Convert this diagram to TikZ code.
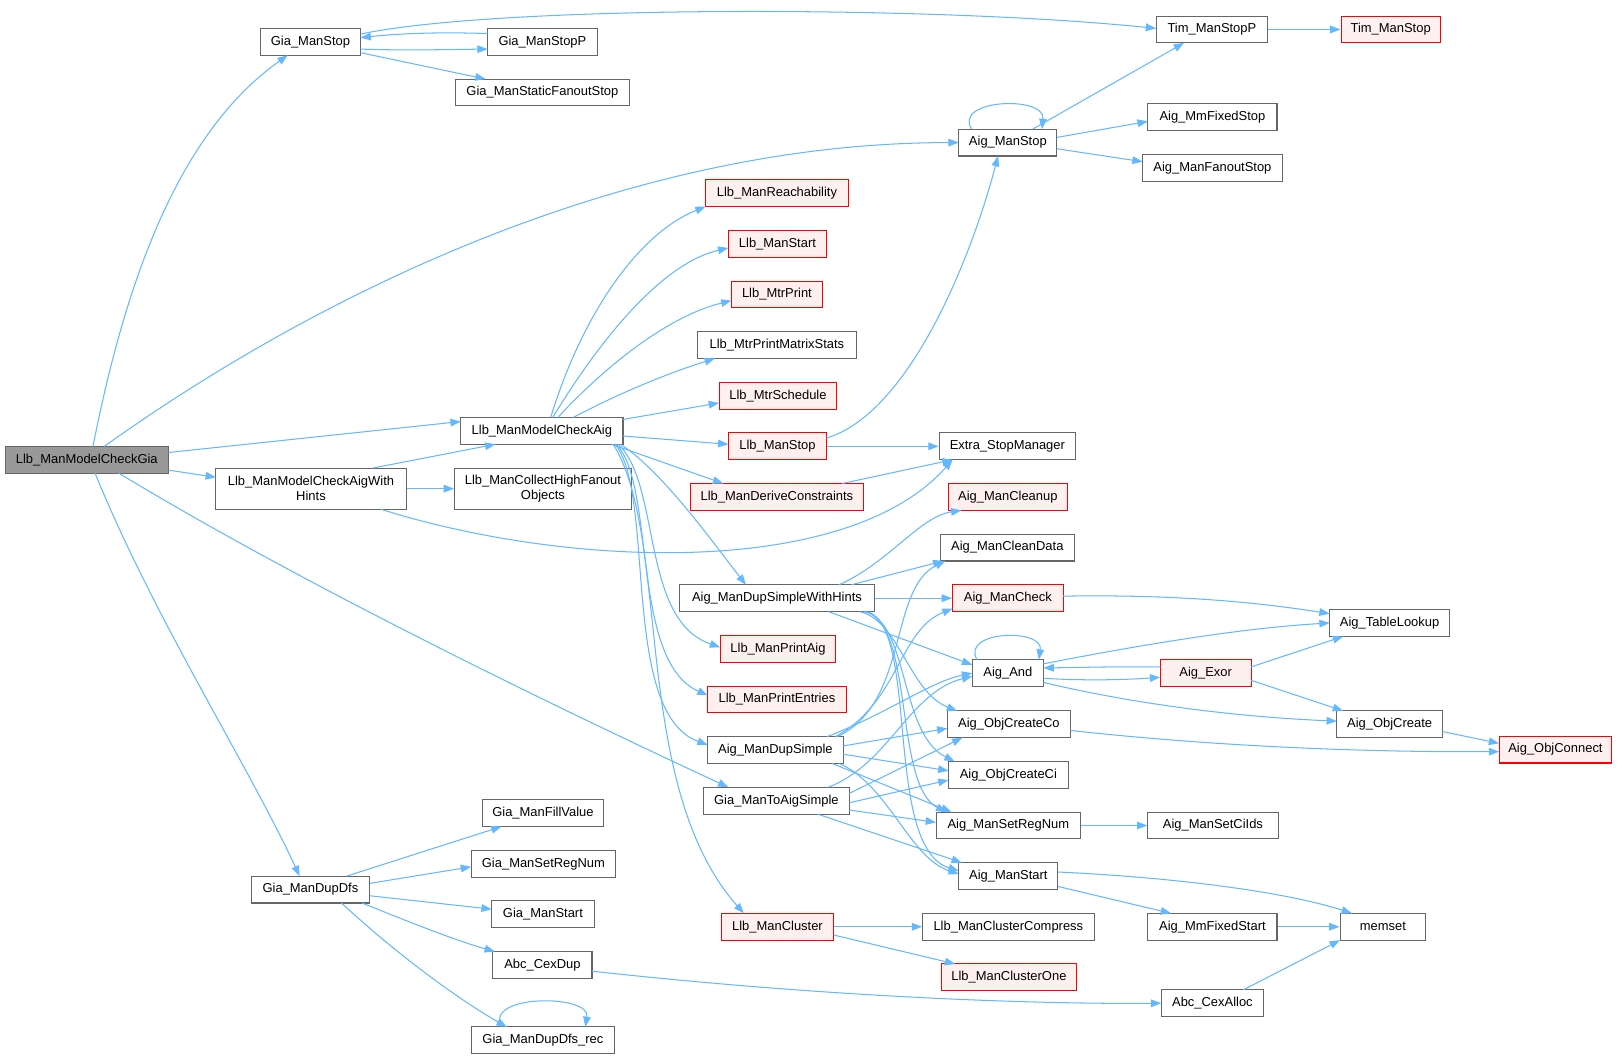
\documentclass[tikz,border=0pt]{standalone}
\usepackage{fontspec}
\setmainfont{Liberation Sans}
\usetikzlibrary{arrows.meta,calc}
\definecolor{edgec}{HTML}{63B8FF}
\definecolor{bordc}{HTML}{666666}
\definecolor{redfill}{HTML}{FFF0F0}
\definecolor{redbord}{HTML}{FF0000}
\definecolor{rootfill}{HTML}{999999}
\newcommand{\fsz}{\fontsize{9.4}{11}\selectfont}
\begin{document}
\begin{tikzpicture}[x=0.75pt,y=-0.75pt,
 nbox/.style={draw=bordc, fill=white, line width=0.75pt, minimum height=19.5pt, inner sep=1pt, font=\fsz, text=black},
 redbox/.style={nbox, draw=redbord, fill=redfill},
 rootbox/.style={nbox, fill=rootfill},
 bw/.style={minimum width={#1*0.75pt}},
 tall/.style={minimum height=30pt, align=center},
 conn/.style={draw=edgec, line width=0.75pt, -{Triangle[length=7.5pt,width=5.5pt]}}
]
\useasboundingbox[fill=white] (0,0) rectangle (1568,1025);

\node[rootbox,bw=158] (G0) at (84,445) {Llb\_ManModelCheckGia};
\node[nbox,bw=97] (GStop) at (300.5,40.5) {Gia\_ManStop};
\node[nbox,bw=106] (GStopP) at (525,40.5) {Gia\_ManStopP};
\node[nbox,bw=168] (GSFS) at (525,89.5) {Gia\_ManStaticFanoutStop};
\node[nbox,bw=108] (TimP) at (1173,28.5) {Tim\_ManStopP};
\node[redbox,bw=96] (Tim) at (1346,28.5) {Tim\_ManStop};
\node[nbox,bw=95] (AStop) at (975.5,138) {Aig\_ManStop};
\node[nbox,bw=125] (MmFS) at (1173.5,113.5) {Aig\_MmFixedStop};
\node[nbox,bw=135] (MFO) at (1173.5,162.5) {Aig\_ManFanoutStop};
\node[redbox,bw=138] (Reach) at (752,187) {Llb\_ManReachability};
\node[redbox,bw=95] (LStart) at (752.5,236) {Llb\_ManStart};
\node[redbox,bw=88] (MtrP) at (752,285) {Llb\_MtrPrint};
\node[nbox,bw=154] (MtrPMS) at (752,334) {Llb\_MtrPrintMatrixStats};
\node[redbox,bw=114] (MtrS) at (753,383) {Llb\_MtrSchedule};
\node[redbox,bw=95] (LStop) at (752.5,432) {Llb\_ManStop};
\node[nbox,bw=157] (MCA) at (524.5,417) {Llb\_ManModelCheckAig};
\node[nbox,tall,bw=184] (MCAH) at (301,473) {Llb\_ManModelCheckAigWith\\Hints};
\node[nbox,tall,bw=171] (CHFO) at (525.5,473) {Llb\_ManCollectHighFanout\\Objects};
\node[nbox,bw=132] (ESM) at (975,432) {Extra\_StopManager};
\node[redbox,bw=168] (LDC) at (752,481) {Llb\_ManDeriveConstraints};
\node[redbox,bw=115] (ACU) at (975.5,481) {Aig\_ManCleanup};
\node[nbox,bw=130] (ACD) at (975,530) {Aig\_ManCleanData};
\node[nbox,bw=188] (DSWH) at (752,579) {Aig\_ManDupSimpleWithHints};
\node[redbox,bw=107] (ACh) at (975.5,579) {Aig\_ManCheck};
\node[nbox,bw=116] (ATL) at (1345,603) {Aig\_TableLookup};
\node[redbox,bw=112] (LPA) at (753,628.5) {Llb\_ManPrintAig};
\node[nbox,bw=69] (AAnd) at (975.5,651.5) {Aig\_And};
\node[redbox,bw=88] (AEx) at (1167,651.5) {Aig\_Exor};
\node[redbox,bw=134] (LPE) at (752,677) {Llb\_ManPrintEntries};
\node[nbox,bw=119] (AOCCo) at (976.5,701) {Aig\_ObjCreateCo};
\node[nbox,bw=102] (AOC) at (1345,701) {Aig\_ObjCreate};
\node[redbox,bw=109] (AOCon) at (1505.5,725.5) {Aig\_ObjConnect};
\node[nbox,bw=131] (DS) at (750.5,726) {Aig\_ManDupSimple};
\node[nbox,bw=116] (AOCCi) at (976,750) {Aig\_ObjCreateCi};
\node[nbox,bw=141] (TAS) at (751.5,775) {Gia\_ManToAigSimple};
\node[nbox,bw=140] (ASRN) at (976,799) {Aig\_ManSetRegNum};
\node[nbox,bw=126] (ASCI) at (1174,799) {Aig\_ManSetCiIds};
\node[nbox,bw=117] (GFV) at (525.5,787) {Gia\_ManFillValue};
\node[nbox,bw=140] (GSRN) at (526,836) {Gia\_ManSetRegNum};
\node[nbox,bw=115] (GDD) at (300.5,861) {Gia\_ManDupDfs};
\node[nbox,bw=99] (GMS) at (525.5,885) {Gia\_ManStart};
\node[nbox,bw=96] (AMS) at (976,848) {Aig\_ManStart};
\node[redbox,bw=109] (LCl) at (752.5,897) {Llb\_ManCluster};
\node[nbox,bw=166] (LCC) at (976,897) {Llb\_ManClusterCompress};
\node[nbox,bw=125] (AMFS) at (1173.5,897) {Aig\_MmFixedStart};
\node[nbox,bw=83] (MEM) at (1338.5,897) {memset};
\node[nbox,bw=96] (CXD) at (525,934) {Abc\_CexDup};
\node[redbox,bw=131] (LCO) at (976.5,946) {Llb\_ManClusterOne};
\node[nbox,bw=99] (CXA) at (1173.5,971) {Abc\_CexAlloc};
\node[nbox,bw=139] (GDDR) at (525.5,1007) {Gia\_ManDupDfs\_rec};

% root
\draw[conn] ($(G0)+(6,-13)$) .. controls (120,280) and (170,130) .. ($(GStop)+(-22,13)$);
\draw[conn] ($(G0)+(17,-13)$) .. controls (300,290) and (600,138) .. ($(AStop)+(-47.5,0)$);
\draw[conn] ($(G0)+(79,-7)$) -- ($(MCA)+(-78.5,-9)$);
\draw[conn] ($(G0)+(79,10)$) -- ($(MCAH)+(-92,-11)$);
\draw[conn] ($(G0)+(31,13)$) .. controls (300,570) and (550,690) .. ($(TAS)+(-46.5,-13)$);
\draw[conn] ($(G0)+(8,13)$) .. controls (150,600) and (240,740) .. ($(GDD)+(-10.5,-13)$);
% Gia_ManStop
\draw[conn] ($(GStop)+(48.5,-7.5)$) .. controls (480,5) and (900,5) .. ($(TimP)+(-54,-1)$);
\draw[conn] ($(GStop)+(48.5,7)$) .. controls (390,49) and (430,48) .. ($(GStopP)+(-53,7)$);
\draw[conn] ($(GStopP)+(-53,-8)$) .. controls (430,31) and (390,32) .. ($(GStop)+(48.5,-4)$);
\draw[conn] ($(GStop)+(48.5,10.5)$) -- ($(GSFS)+(-55,-13)$);
\draw[conn] (TimP) -- (Tim);
% Aig_ManStop
\draw[conn] ($(AStop)+(-35,-13)$) .. controls (922,96) and (1012,92) .. ($(AStop)+(33,-13)$);
\draw[conn] ($(AStop)+(24,-13)$) -- ($(TimP)+(-27,13)$);
\draw[conn] ($(AStop)+(47.5,-5)$) -- ($(MmFS)+(-62.5,4)$);
\draw[conn] ($(AStop)+(47.5,6)$) -- ($(MFO)+(-67.5,-6)$);
% Llb_ManModelCheckAig
\draw[conn] ($(MCA)+(8.5,-13)$) .. controls (565,300) and (620,225) .. ($(Reach)+(-69,13)$);
\draw[conn] ($(MCA)+(10.5,-13)$) .. controls (580,330) and (640,255) .. ($(LStart)+(-47.5,4)$);
\draw[conn] ($(MCA)+(15.5,-13)$) .. controls (590,350) and (650,305) .. ($(MtrP)+(-44,6)$);
\draw[conn] ($(MCA)+(30.5,-13)$) .. controls (600,380) and (650,360) .. ($(MtrPMS)+(-60,13)$);
\draw[conn] ($(MCA)+(78.5,-11)$) -- ($(MtrS)+(-57,7)$);
\draw[conn] ($(MCA)+(78.5,5)$) -- ($(LStop)+(-47.5,-2)$);
\draw[conn] ($(MCA)+(67.5,13)$) -- ($(LDC)+(-52,-13)$);
\draw[conn] ($(MCA)+(76,13)$) .. controls (640,455) and (690,525) .. ($(DSWH)+(-30,-13)$);
\draw[conn] ($(MCA)+(74,13)$) .. controls (640,470) and (620,600) .. ($(LPA)+(-56,-2)$);
\draw[conn] ($(MCA)+(72,13)$) .. controls (635,470) and (610,640) .. ($(LPE)+(-67,-4)$);
\draw[conn] ($(MCA)+(71,13)$) .. controls (635,480) and (600,690) .. ($(DS)+(-65.5,-5)$);
\draw[conn] ($(MCA)+(69,13)$) .. controls (650,520) and (610,760) .. ($(LCl)+(-32.5,-13)$);
% with hints
\draw[conn] ($(MCAH)+(60,-20)$) -- ($(MCA)+(-45,13)$);
\draw[conn] (MCAH) -- (CHFO);
\draw[conn] ($(MCAH)+(68,20)$) .. controls (550,550) and (820,560) .. ($(ESM)+(-53,13)$);
% Llb_ManStop etc.
\draw[conn] ($(LStop)+(47.5,-8)$) .. controls (880,400) and (940,250) .. ($(AStop)+(-9.5,13)$);
\draw[conn] (LStop) -- (ESM);
\draw[conn] ($(LDC)+(63,-13)$) -- ($(ESM)+(-53,13)$);
% DupSimpleWithHints
\draw[conn] ($(DSWH)+(60,-13)$) .. controls (860,545) and (890,500) .. ($(ACU)+(-45,13)$);
\draw[conn] ($(DSWH)+(72,-13)$) -- ($(ACD)+(-62,13)$);
\draw[conn] (DSWH) -- (ACh);
\draw[conn] ($(DSWH)+(50,13)$) -- ($(AAnd)+(-34.5,-8)$);
\draw[conn] ($(DSWH)+(80,13)$) .. controls (870,600) and (880,670) .. ($(AOCCo)+(-50,-13)$);
\draw[conn] ($(DSWH)+(84,13)$) .. controls (880,600) and (870,710) .. ($(AOCCi)+(-52,-13)$);
\draw[conn] ($(DSWH)+(86,13)$) .. controls (885,605) and (865,760) .. ($(ASRN)+(-60,-13)$);
\draw[conn] ($(DSWH)+(88,13)$) .. controls (890,610) and (855,820) .. ($(AMS)+(-48,-5)$);
% DupSimple
\draw[conn] ($(DS)+(60,-13)$) .. controls (880,680) and (860,570) .. ($(ACD)+(-60,13)$);
\draw[conn] ($(DS)+(58,-13)$) .. controls (870,680) and (870,610) .. ($(ACh)+(-53.5,10)$);
\draw[conn] ($(DS)+(50,-13)$) .. controls (860,690) and (900,660) .. ($(AAnd)+(-34.5,0)$);
\draw[conn] ($(DS)+(65.5,-4)$) -- ($(AOCCo)+(-59.5,4)$);
\draw[conn] ($(DS)+(65.5,4)$) -- ($(AOCCi)+(-58,-4)$);
\draw[conn] ($(DS)+(55,13)$) -- ($(ASRN)+(-55,-13)$);
\draw[conn] ($(DS)+(62,13)$) .. controls (860,760) and (880,830) .. ($(AMS)+(-48,-2)$);
% ToAigSimple
\draw[conn] ($(TAS)+(50,-13)$) .. controls (860,740) and (880,670) .. ($(AAnd)+(-34.5,3)$);
\draw[conn] ($(TAS)+(70.5,-7)$) -- ($(AOCCo)+(-45,13)$);
\draw[conn] ($(TAS)+(70.5,2)$) -- ($(AOCCi)+(-58,5)$);
\draw[conn] ($(TAS)+(70.5,9)$) -- ($(ASRN)+(-70,-3)$);
\draw[conn] ($(TAS)+(40,13)$) -- ($(AMS)+(-45,-13)$);
% Aig level
\draw[conn] ($(ACh)+(53.5,-2)$) .. controls (1150,575) and (1230,585) .. ($(ATL)+(-58,-9)$);
\draw[conn] ($(AAnd)+(-30,-13)$) .. controls (930,610) and (1010,608) .. ($(AAnd)+(30,-13)$);
\draw[conn] ($(AAnd)+(34.5,-9)$) .. controls (1100,625) and (1200,608) .. ($(ATL)+(-58,0)$);
\draw[conn] ($(AAnd)+(34.5,5)$) .. controls (1050,659) and (1090,658) .. ($(AEx)+(-44,4)$);
\draw[conn] ($(AEx)+(-44,-6)$) .. controls (1080,645) and (1050,646) .. ($(AAnd)+(34.5,-5)$);
\draw[conn] ($(AAnd)+(34.5,9)$) .. controls (1100,682) and (1200,694) .. ($(AOC)+(-51,-3)$);
\draw[conn] ($(AEx)+(44,-6)$) -- ($(ATL)+(-45,13)$);
\draw[conn] ($(AEx)+(44,7)$) -- ($(AOC)+(-45,-13)$);
\draw[conn] ($(AOCCo)+(59.5,6)$) .. controls (1200,725) and (1350,728) .. ($(AOCon)+(-54.5,2)$);
\draw[conn] ($(AOC)+(51,7)$) -- ($(AOCon)+(-54.5,-6)$);
\draw[conn] (ASRN) -- (ASCI);
\draw[conn] ($(AMS)+(48,-4)$) .. controls (1150,850) and (1250,865) .. ($(MEM)+(-30,-13)$);
\draw[conn] ($(AMS)+(48,10)$) -- ($(AMFS)+(-40,-13)$);
\draw[conn] (AMFS) -- (MEM);
\draw[conn] ($(CXA)+(30,-13)$) -- ($(MEM)+(-41.5,13)$);
\draw[conn] (LCl) -- (LCC);
\draw[conn] ($(LCl)+(54.5,8)$) -- ($(LCO)+(-52,-13)$);
% Gia_ManDupDfs
\draw[conn] ($(GDD)+(35,-13)$) -- ($(GFV)+(-40,13)$);
\draw[conn] ($(GDD)+(57.5,-6)$) -- ($(GSRN)+(-70,3)$);
\draw[conn] ($(GDD)+(57.5,6)$) -- ($(GMS)+(-49.5,-5)$);
\draw[conn] ($(GDD)+(50,13)$) .. controls (390,890) and (440,910) .. ($(CXD)+(-46,-13)$);
\draw[conn] ($(GDD)+(30,13)$) .. controls (380,920) and (440,965) .. ($(GDDR)+(-35,-13)$);
\draw[conn] ($(GDDR)+(-40,-13)$) .. controls (468,962) and (572,962) .. ($(GDDR)+(41,-13)$);
\draw[conn] ($(CXD)+(48,6)$) .. controls (800,965) and (1000,972) .. ($(CXA)+(-49.5,0)$);
\end{tikzpicture}
\end{document}
